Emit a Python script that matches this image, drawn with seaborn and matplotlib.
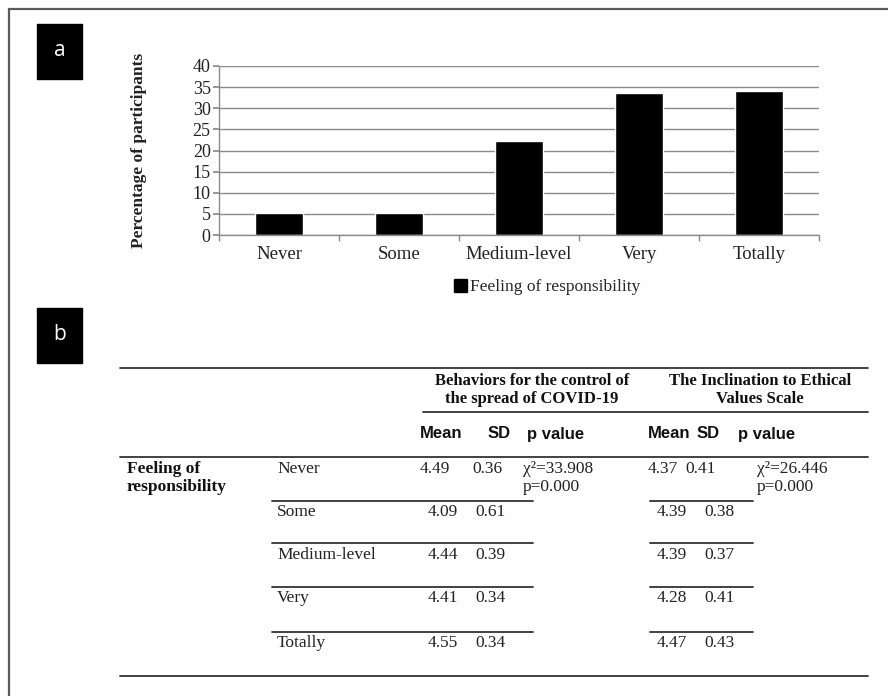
import pandas as pd
import matplotlib
matplotlib.use("Agg")
from matplotlib import pyplot as plt
from matplotlib.patches import Patch, Rectangle
import seaborn as sns

# panel a: share of participants per level of feeling of responsibility
levels = ["Never", "Some", "Medium-level", "Very", "Totally"]
pct = [5.2, 5.2, 22.3, 33.5, 34.0]
series_name = "Feeling of responsibility"

# panel b: table values
beh_mean = ["4.49", "4.09", "4.44", "4.41", "4.55"]
beh_sd = ["0.36", "0.61", "0.39", "0.34", "0.34"]
eth_mean = ["4.37", "4.39", "4.39", "4.28", "4.47"]
eth_sd = ["0.41", "0.38", "0.37", "0.41", "0.43"]
beh_p = ["χ²=33.908", "p=0.000"]
eth_p = ["χ²=26.446", "p=0.000"]
beh_title = ["Behaviors for the control of", "the spread of COVID-19"]
eth_title = ["The Inclination to Ethical", "Values Scale"]
sub_cols = ["Mean", "SD", "p value"]
row_group = ["Feeling of", "responsibility"]

sns.set_theme(style="white")
plt.rcParams["font.family"] = ["Liberation Serif", "DejaVu Serif"]

df = pd.DataFrame({"level": levels, "pct": pct})

W, H = 888, 696
fig = plt.figure(figsize=(W / 100, H / 100), dpi=100)

# bar chart axes (pixel box 219..819 x 66..235)
ax = fig.add_axes([219 / W, 1 - 235 / H, 600 / W, 169 / H])
sns.barplot(data=df, x="level", y="pct", color="black", width=0.4,
            saturation=1, ax=ax)
ax.set_xlim(-0.5, 4.5)
ax.set_ylim(0, 40)
ax.set_yticks(range(0, 45, 5))
ax.set_axisbelow(True)
ax.yaxis.grid(True, color="#8a8a8a", lw=1)
for s in ["top", "right"]:
    ax.spines[s].set_visible(False)
for s in ["left", "bottom"]:
    ax.spines[s].set_color("#8a8a8a")
    ax.spines[s].set_linewidth(1)
ax.set_xticks([i - 0.5 for i in range(6)], minor=True)
ax.tick_params(axis="x", which="major", length=0, labelsize=13.5, pad=8,
               colors="#222222")
ax.tick_params(axis="x", which="minor", length=4, color="#8a8a8a",
               direction="out", bottom=True)
ax.tick_params(axis="y", length=4, color="#8a8a8a", left=True, labelsize=13,
               colors="#222222", pad=2)
ax.set_xlabel("")
ax.set_ylabel("Percentage of participants", fontsize=12.5, fontweight="bold",
              color="#222222")
ax.yaxis.set_label_coords(-0.12, 0.5)
ax.legend(handles=[Patch(color="black", label=series_name)], loc="center left",
          bbox_to_anchor=(454 / W, 1 - 287 / H), bbox_transform=fig.transFigure,
          frameon=False, fontsize=12.5, handlelength=0.75, handleheight=0.75,
          handletextpad=0.2, borderpad=0, borderaxespad=0)

# overlay in pixel units for frame, labels and table
ov = fig.add_axes([0, 0, 1, 1], zorder=-1)
ov.set_xlim(0, W)
ov.set_ylim(H, 0)
ov.axis("off")

frame_c = "#5a5a5a"
ov.plot([9, W], [9, 9], color=frame_c, lw=1.6)
ov.plot([9, 9], [9, H], color=frame_c, lw=1.6)

for lab, y0 in [("a", 24), ("b", 308)]:
    ov.add_patch(Rectangle((37, y0), 45, 55, color="black"))
    ov.text(59.5, y0 + 27, lab, color="white", fontsize=15, ha="center",
            va="center", family="Open Sans")

line_c = "#333333"
lw = 1.3
ov.plot([120, 868], [368, 368], color=line_c, lw=lw)
ov.plot([423, 868], [412, 412], color=line_c, lw=lw)
ov.plot([120, 868], [457, 457], color=line_c, lw=lw)
ov.plot([120, 868], [676, 676], color=line_c, lw=lw)

for i, t in enumerate(beh_title):
    ov.text(532, 381 + i * 18, t, fontsize=12, fontweight="bold", ha="center",
            va="center", color="#111111")
for i, t in enumerate(eth_title):
    ov.text(760, 381 + i * 18, t, fontsize=12, fontweight="bold", ha="center",
            va="center", color="#111111")

for xs in ([420, 488, 527], [648, 697, 738]):
    for x, t in zip(xs, sub_cols):
        ov.text(x, 434, t, fontsize=12, fontweight="bold", ha="left",
                va="center", family="Liberation Sans", color="#111111")

for i, t in enumerate(row_group):
    ov.text(127, 469 + i * 18, t, fontsize=12.5, fontweight="bold", ha="left",
            va="center", color="#111111")

row_y = [469, 512, 555, 598, 643]
body = dict(fontsize=12.5, ha="left", va="center", color="#222222")
for i, y in enumerate(row_y):
    first = i == 0
    ov.text(277, y, levels[i], **body)
    ov.text(420 if first else 428, y, beh_mean[i], **body)
    ov.text(472 if first else 475, y, beh_sd[i], **body)
    ov.text(648 if first else 657, y, eth_mean[i], **body)
    ov.text(685 if first else 704, y, eth_sd[i], **body)
    if i < len(row_y) - 1:
        ly = [501, 543, 587, 632][i]
        ov.plot([272, 533], [ly, ly], color=line_c, lw=lw)
        ov.plot([650, 753], [ly, ly], color=line_c, lw=lw)

for i, t in enumerate(beh_p):
    ov.text(523, 469 + i * 18, t, **body)
for i, t in enumerate(eth_p):
    ov.text(757, 469 + i * 18, t, **body)

fig.savefig("out.png", dpi=100)
